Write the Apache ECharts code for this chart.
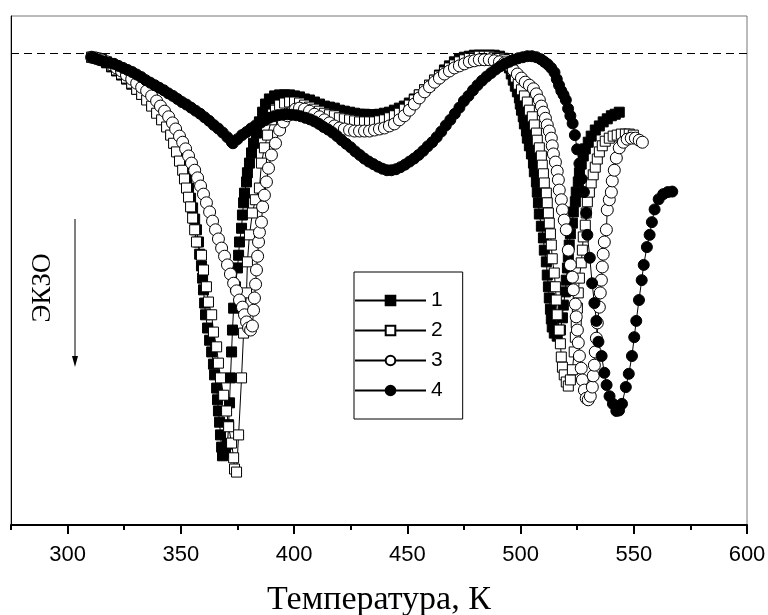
<!DOCTYPE html>
<html>
<head>
<meta charset="utf-8">
<script src="https://cdn.jsdelivr.net/npm/echarts@6/dist/echarts.min.js"></script>
<style>
  html, body { margin: 0; padding: 0; background: #fff; }
  #chart { width: 768px; height: 615px; }
</style>
</head>
<body>
<div id="chart"></div>
<script>
// DSC traces: [temperature K, heat-flow signal in arbitrary units, exo down]
const curve1 = [
  [310.6,91.9],[312.8,91.7],[315.0,91.4],[317.2,90.8],[319.4,90.0],[321.6,89.2],[323.8,88.4],[326.0,87.6],
  [328.3,86.6],[330.5,85.6],[332.7,84.6],[334.9,83.7],[337.1,82.5],[339.3,81.1],[341.5,79.8],[343.7,78.4],
  [345.5,76.8],[347.2,75.0],[349.0,73.3],[350.3,71.5],[351.6,69.7],[352.5,68.0],[353.4,66.2],[354.3,64.2],
  [355.2,62.3],[356.1,60.1],[356.9,58.0],[357.8,55.6],[358.3,53.2],[359.1,50.9],[359.6,48.5],[360.0,46.2],
  [360.5,43.6],[360.9,41.3],[361.8,38.7],[362.7,36.3],[363.6,34.0],[364.4,31.6],[364.9,29.5],[365.8,26.9],
  [366.2,24.6],[366.6,22.4],[367.1,20.2],[367.5,17.7],[368.0,15.3],[368.4,13.6],[369.7,14.3],[370.6,15.9],
  [371.1,19.7],[371.5,24.0],[371.9,28.9],[372.4,34.0],[372.8,38.3],[373.3,42.6],[374.1,46.8],[375.0,50.5],
  [375.5,53.0],[375.9,55.6],[376.8,58.3],[377.2,60.9],[377.7,63.3],[378.1,65.2],[379.0,67.4],[379.4,69.2],
  [380.3,71.1],[381.2,73.1],[382.1,75.0],[383.4,77.0],[384.7,79.2],[386.1,81.1],[387.4,82.7],[389.1,83.7],
  [391.4,84.3],[393.6,84.5],[395.8,84.5],[398.0,84.5],[400.2,84.3],[402.4,84.1],[404.6,83.7],[406.8,83.5],
  [409.0,83.1],[411.2,82.7],[413.4,82.3],[415.6,82.1],[417.8,81.9],[420.0,81.5],[422.2,81.3],[424.5,81.1],
  [426.7,80.9],[428.9,80.7],[431.1,80.7],[433.3,80.6],[435.5,80.6],[437.7,80.7],[439.9,80.9],[442.1,81.1],
  [444.3,81.5],[446.5,81.9],[448.7,82.3],[450.9,82.9],[453.1,83.7],[455.3,84.5],[457.6,85.5],[459.8,86.4],
  [462.0,87.4],[464.2,88.4],[466.4,89.4],[468.6,90.2],[470.8,91.0],[473.0,91.6],[475.2,91.9],[477.4,92.1],
  [479.6,92.3],[481.8,92.3],[484.0,92.3],[486.2,92.3],[488.4,92.3],[490.7,92.1],[492.4,91.7],[493.7,91.0],
  [495.1,89.8],[495.9,88.6],[496.8,87.4],[497.7,86.2],[498.6,85.1],[499.5,83.9],[499.9,82.7],[500.4,81.5],
  [501.2,80.2],[501.7,78.8],[502.6,77.4],[503.0,76.0],[503.9,74.5],[504.8,72.9],[505.7,71.1],[506.1,69.4],
  [507.0,67.4],[507.4,65.4],[507.9,63.3],[508.3,61.1],[509.2,58.7],[510.1,56.4],[510.5,54.0],[511.4,51.7],
  [511.8,49.1],[512.3,46.8],[512.7,44.6],[513.2,42.4],[513.6,40.5],[514.0,38.9],[514.9,37.7],[516.2,37.1],
  [517.6,38.3],[518.5,40.7],[518.9,43.2],[519.8,45.8],[520.2,48.1],[520.7,50.5],[521.1,52.7],[521.5,55.0],
  [522.0,57.2],[522.9,59.3],[523.3,61.5],[524.2,63.5],[524.6,65.4],[525.5,67.4],[526.0,69.2],[526.8,70.9],
  [527.7,72.5],[528.6,73.9],[529.9,75.2],[531.2,76.4],[533.0,77.6],[534.8,78.4],[536.5,79.2],[538.3,79.8],
  [540.1,80.4],[541.8,80.7],[543.6,81.1]
];

const curve2 = [
  [310.6,91.9],[312.8,91.7],[315.0,91.4],[317.2,91.0],[319.4,90.2],[321.6,89.4],[323.8,88.6],[326.0,87.8],
  [328.3,86.8],[330.5,85.6],[332.7,84.6],[334.9,83.5],[337.1,82.3],[339.3,80.9],[341.5,79.6],[343.7,78.2],
  [345.5,76.6],[346.8,75.0],[348.1,73.3],[349.4,71.5],[350.8,69.7],[351.6,68.0],[352.5,66.2],[353.4,64.4],
  [354.3,62.5],[355.2,60.3],[356.1,58.0],[356.9,55.6],[359.1,53.0],[360.0,50.1],[361.3,46.8],[362.2,43.8],
  [363.6,41.3],[364.4,37.9],[365.8,35.0],[366.6,31.8],[367.5,28.9],[368.9,25.5],[370.2,22.4],[371.1,19.3],
  [372.4,16.1],[373.3,13.2],[373.7,11.0],[374.6,10.4],[375.5,17.7],[376.8,28.9],[377.7,37.7],[379.0,45.6],
  [379.4,51.7],[380.3,57.0],[381.6,61.3],[382.9,63.9],[384.7,66.2],[385.6,71.1],[386.9,74.1],[388.3,76.6],
  [390.0,79.6],[391.8,81.5],[393.6,82.5],[395.8,82.9],[398.0,83.1],[400.2,83.1],[402.4,82.9],[404.6,82.5],
  [406.8,82.1],[409.0,81.7],[411.2,81.3],[413.4,80.9],[415.6,80.6],[417.8,80.4],[420.0,80.0],[422.2,79.8],
  [424.5,79.6],[426.7,79.4],[428.9,79.2],[431.1,79.2],[433.3,79.2],[435.5,79.2],[437.7,79.4],[439.9,79.6],
  [442.1,80.0],[444.3,80.4],[446.5,80.9],[448.7,81.7],[450.9,82.5],[453.1,83.5],[455.3,84.5],[457.6,85.5],
  [459.8,86.4],[462.0,87.4],[464.2,88.2],[466.4,89.0],[468.6,89.8],[470.8,90.4],[473.0,91.0],[475.2,91.4],
  [477.4,91.7],[479.6,91.9],[481.8,92.1],[484.0,92.1],[486.2,92.1],[488.4,91.9],[490.7,91.7],[492.9,91.4],
  [494.6,90.6],[496.4,89.4],[497.7,88.0],[499.0,86.6],[500.4,85.5],[501.7,84.3],[503.0,83.1],[503.9,81.5],
  [505.2,80.2],[506.1,78.6],[507.0,77.0],[507.4,75.6],[508.3,74.1],[509.2,72.5],[509.6,70.7],[510.1,69.0],
  [510.5,67.2],[511.4,65.2],[511.8,63.3],[512.3,61.3],[512.7,59.3],[513.2,57.2],[513.6,55.0],[514.0,52.3],
  [514.9,49.5],[515.4,46.8],[515.8,44.2],[516.2,41.3],[517.1,38.3],[517.6,35.6],[518.0,33.0],[518.5,31.0],
  [519.3,29.5],[520.2,28.1],[521.1,27.3],[522.0,28.5],[522.9,30.5],[523.7,34.0],[524.2,36.9],[524.6,39.7],
  [525.1,42.6],[525.5,45.6],[526.0,48.5],[526.8,51.5],[527.3,54.0],[527.7,56.6],[528.6,58.9],[529.0,61.3],
  [529.5,63.5],[530.4,65.4],[531.2,67.2],[532.1,68.8],[533.0,70.3],[533.9,71.9],[534.8,73.3],[536.1,74.5],
  [537.4,75.4],[539.2,76.0],[540.9,76.4],[542.7,76.6],[544.5,76.8],[546.3,76.8],[548.0,76.8],[549.8,76.6]
];

const curve3 = [
  [310.6,91.9],[312.8,91.7],[315.0,91.4],[317.2,91.0],[319.4,90.4],[321.6,89.8],[323.8,89.2],[326.0,88.4],
  [328.3,87.6],[330.5,86.8],[332.7,86.0],[334.9,85.3],[337.1,84.3],[339.3,83.3],[341.0,82.3],[342.8,81.3],
  [344.6,80.2],[346.3,79.0],[347.7,77.8],[349.4,76.4],[350.8,75.2],[352.1,73.9],[353.4,72.5],[354.7,71.1],
  [356.1,69.7],[357.4,68.2],[358.7,66.6],[360.0,65.0],[361.3,63.3],[362.7,61.5],[364.0,59.7],[365.3,58.0],
  [366.6,56.2],[368.0,54.4],[369.3,52.8],[370.6,51.1],[371.9,49.3],[373.3,47.5],[374.6,46.0],[375.9,44.2],
  [377.2,42.8],[378.1,41.3],[379.0,39.9],[379.9,38.7],[380.8,38.3],[381.6,39.1],[382.1,42.2],[382.5,44.6],
  [383.0,47.3],[383.4,50.1],[383.9,52.8],[384.3,55.6],[384.7,57.5],[385.6,59.5],[386.1,62.5],[386.9,64.8],
  [387.8,67.4],[388.7,70.1],[390.0,72.7],[391.8,75.0],[393.6,77.6],[395.3,79.2],[397.1,80.4],[398.9,81.1],
  [400.6,81.7],[402.4,81.9],[404.6,81.7],[406.8,81.3],[409.0,80.7],[411.2,80.2],[413.4,79.6],[415.6,79.0],
  [417.8,78.4],[420.0,78.0],[422.2,77.8],[424.5,77.6],[426.7,77.4],[428.9,77.4],[431.1,77.4],[433.3,77.4],
  [435.5,77.6],[437.7,77.8],[439.9,78.0],[442.1,78.4],[444.3,78.8],[446.5,79.6],[448.7,80.4],[450.9,81.5],
  [453.1,82.7],[455.3,83.9],[457.6,85.1],[459.8,86.1],[462.0,87.0],[464.2,87.8],[466.4,88.6],[468.6,89.2],
  [470.8,89.8],[473.0,90.2],[475.2,90.6],[477.4,91.0],[479.6,91.2],[481.8,91.4],[484.0,91.4],[486.2,91.4],
  [488.4,91.2],[490.7,91.0],[492.9,90.8],[495.1,90.2],[496.8,89.4],[498.6,88.6],[500.4,87.8],[502.1,87.0],
  [503.9,86.4],[505.7,85.7],[507.0,84.7],[508.3,83.5],[509.2,82.3],[510.1,81.1],[511.0,79.9],[511.8,78.6],
  [512.7,77.4],[513.6,76.0],[514.0,74.5],[514.5,72.9],[515.4,71.3],[516.2,69.5],[516.7,67.8],[517.1,65.8],
  [518.0,63.9],[518.5,61.9],[519.3,59.9],[520.2,58.0],[521.1,54.0],[522.0,51.1],[522.9,48.7],[523.3,46.2],
  [524.2,43.4],[524.6,40.9],[525.1,38.3],[525.5,35.8],[526.0,33.2],[526.8,30.8],[527.3,28.5],[528.2,26.5],
  [529.0,24.9],[529.9,24.6],[530.8,25.3],[531.7,27.1],[532.1,29.3],[532.6,31.4],[533.0,34.0],[533.5,36.7],
  [533.9,39.7],[534.8,42.8],[535.2,45.6],[535.7,48.1],[536.1,50.7],[536.5,53.2],[537.0,55.6],[537.9,58.0],
  [538.3,61.9],[539.2,63.9],[540.1,65.4],[540.5,67.6],[541.4,69.7],[542.3,72.1],[543.6,74.1],[545.4,75.2],
  [547.1,75.8],[548.9,76.0],[550.7,76.0],[552.4,75.6],[553.8,75.2]
];

const curve4 = [
  [310.6,91.9],[312.5,91.6],[314.5,91.3],[316.5,91.0],[318.5,90.8],[320.5,90.6],[322.5,90.2],[324.5,89.8],
  [326.5,89.4],[328.5,89.0],[330.5,88.5],[332.5,88.0],[334.5,87.4],[336.5,86.9],[338.5,86.4],[340.5,85.9],
  [342.5,85.4],[344.5,84.8],[346.5,84.3],[348.5,83.7],[350.5,83.1],[352.5,82.6],[354.5,82.0],[356.5,81.4],
  [358.5,80.8],[360.5,80.1],[362.5,79.4],[364.5,78.6],[366.5,77.9],[368.5,77.1],[370.5,76.2],[372.5,75.2],
  [373.0,75.0],[375.0,75.8],[377.0,76.6],[379.0,77.2],[381.0,77.9],[383.0,78.5],[385.0,79.0],[387.0,79.5],
  [389.0,80.0],[391.0,80.3],[393.0,80.5],[395.0,80.6],[397.0,80.7],[399.0,80.6],[401.0,80.5],[403.0,80.3],
  [405.0,80.0],[407.0,79.7],[409.0,79.3],[411.0,78.8],[413.0,78.2],[415.0,77.7],[417.0,77.1],[419.0,76.4],
  [421.0,75.6],[423.0,74.9],[425.0,74.2],[427.0,73.4],[429.0,72.7],[431.0,72.0],[433.0,71.4],[435.0,70.9],
  [437.0,70.4],[439.0,70.0],[441.0,69.7],[443.0,69.7],[445.0,69.9],[447.0,70.3],[449.0,70.8],[451.0,71.4],
  [453.0,72.0],[455.0,72.7],[457.0,73.5],[459.0,74.4],[461.0,75.2],[463.0,76.2],[465.0,77.3],[467.0,78.5],
  [469.0,79.6],[471.0,80.8],[473.0,82.0],[475.0,83.3],[477.0,84.3],[479.0,85.4],[481.0,86.4],[483.0,87.3],
  [485.0,88.1],[487.0,88.8],[489.0,89.5],[491.0,90.1],[493.0,90.6],[495.0,91.0],[497.0,91.4],[499.0,91.7],
  [501.0,91.9],[503.0,92.1],[505.0,92.1],[507.0,91.9],[509.0,91.5],[510.5,91.0],[512.0,90.5],[513.5,89.8],
  [515.0,88.9],[516.0,87.6],[517.0,86.4],[518.0,85.3],[519.0,84.5],[520.0,83.5],[521.0,81.8],[522.0,80.4],
  [523.0,78.9],[524.0,76.6],[525.0,73.8],[526.0,71.0],[527.0,68.0],[528.0,65.4],[529.0,61.3],[529.5,57.0],
  [530.6,52.5],[531.6,47.5],[532.6,43.6],[533.5,40.1],[534.4,36.0],[535.8,33.2],[537.0,29.9],[538.0,27.5],
  [539.3,25.3],[540.8,23.8],[542.3,22.4],[543.5,22.5],[544.8,23.8],[546.5,27.1],[547.8,29.7],[549.2,33.2],
  [550.2,36.9],[551.1,40.1],[552.3,44.2],[553.5,48.1],[554.4,51.1],[555.8,54.6],[557.0,57.0],[558.0,59.5],
  [559.2,62.0],[561.0,64.0],[563.0,65.0],[565.0,65.4],[567.0,65.5]
];

const seriesNames = ['1', '2', '3', '4'];
const majorTicks = [300, 350, 400, 450, 500, 550, 600];
const minorTicks = [275, 325, 375, 425, 475, 525, 575];
const baselineLevel = 92.7;

const SANS = '"Liberation Sans", Arial, sans-serif';
const SERIF = '"Liberation Serif", "Times New Roman", serif';

function traceSeries(name, data, symbol, size, fill) {
  return {
    name: name,
    type: 'line',
    data: data,
    symbol: symbol,
    symbolSize: size,
    showAllSymbol: true,
    animation: false,
    lineStyle: { color: '#000', width: 1 },
    itemStyle: { color: fill, borderColor: '#000', borderWidth: 1 },
    emphasis: { disabled: true }
  };
}

const chart = echarts.init(document.getElementById('chart'), null, { renderer: 'canvas' });

const series = [
  traceSeries(seriesNames[0], curve1, 'rect', 10, '#000'),
  traceSeries(seriesNames[1], curve2, 'rect', 10, '#fff'),
  traceSeries(seriesNames[2], curve3, 'circle', 12, '#fff'),
  traceSeries(seriesNames[3], curve4, 'circle', 11, '#000')
];
series[3].markLine = {
  silent: true,
  symbol: ['none', 'none'],
  label: { show: false },
  lineStyle: { color: '#000', width: 1, type: [8, 5] },
  data: [{ yAxis: baselineLevel }]
};

chart.setOption({
  animation: false,
  backgroundColor: '#fff',
  grid: {
    left: 11, right: 21, top: 16, bottom: 90,
    containLabel: false,
    outerBoundsMode: 'none',
    show: true, borderColor: '#777', borderWidth: 1
  },
  xAxis: [{
    type: 'value', min: 275, max: 600,
    axisLine: { show: true, onZero: false, lineStyle: { color: '#000', width: 2 } },
    axisTick: { show: true, customValues: majorTicks, length: 9, lineStyle: { color: '#000', width: 2 } },
    axisLabel: { customValues: majorTicks, fontSize: 22, color: '#000', margin: 19, fontFamily: SANS },
    splitLine: { show: false },
    name: 'Температура, К',
    nameLocation: 'middle',
    nameGap: 58,
    nameTextStyle: { fontFamily: SERIF, fontSize: 34, color: '#000' }
  }, {
    type: 'value', min: 275, max: 600, position: 'bottom', offset: 0,
    axisLine: { show: false },
    axisTick: { show: true, customValues: minorTicks, length: 5, lineStyle: { color: '#000', width: 2 } },
    axisLabel: { show: false },
    splitLine: { show: false }
  }],
  yAxis: {
    type: 'value', min: 0, max: 100,
    axisLine: { show: true, onZero: false, lineStyle: { color: '#000', width: 1 } },
    axisTick: { show: false },
    axisLabel: { show: false },
    splitLine: { show: false }
  },
  legend: {
    data: seriesNames,
    orient: 'vertical',
    left: 354, top: 272,
    itemWidth: 71, itemHeight: 12, itemGap: 9,
    padding: [18, 20, 18, 0],
    borderColor: '#000', borderWidth: 1,
    backgroundColor: '#fff',
    selectedMode: false,
    textStyle: { fontSize: 21, color: '#000', fontFamily: SANS }
  },
  graphic: [
    {
      type: 'text',
      x: 43, y: 288,
      rotation: Math.PI / 2,
      style: {
        text: 'ЭКЗО', font: '27px ' + SERIF, fill: '#000',
        align: 'center', verticalAlign: 'middle'
      }
    },
    {
      type: 'line',
      shape: { x1: 75, y1: 219, x2: 75, y2: 358 },
      style: { stroke: '#000', lineWidth: 1 }
    },
    {
      type: 'polygon',
      shape: { points: [[72, 356], [78, 356], [75, 367]] },
      style: { fill: '#000' }
    }
  ],
  series: series
});
</script>
</body>
</html>
